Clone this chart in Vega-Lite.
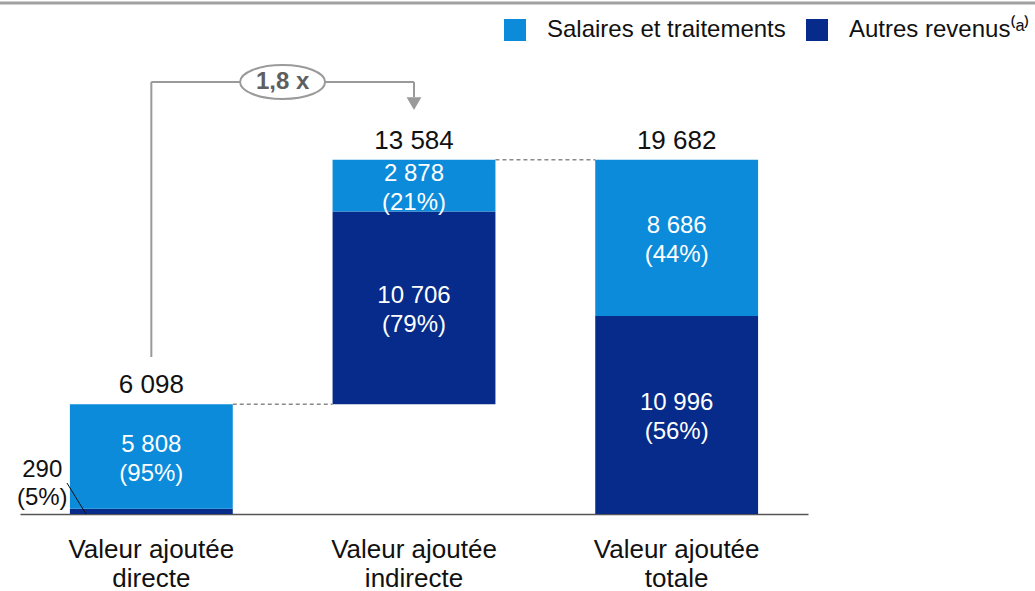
{
  "$schema": "https://vega.github.io/schema/vega-lite/v6.json",
  "width": 1035,
  "height": 511,
  "autosize": {"type": "none"},
  "padding": {"top": 3, "left": 0, "right": 0, "bottom": 77},
  "config": {
    "font": "Liberation Sans",
    "view": {"stroke": null},
    "text": {"font": "Liberation Sans"}
  },
  "datasets": {
    "bars": [
      {"cat": "Valeur ajoutée directe", "type": "Autres revenus⁽ᵃ⁾", "y0": 0, "y1": 290, "lab": "", "total": ""},
      {"cat": "Valeur ajoutée directe", "type": "Salaires et traitements", "y0": 290, "y1": 6098, "lab": "5 808\n(95%)", "total": "6 098"},
      {"cat": "Valeur ajoutée indirecte", "type": "Autres revenus⁽ᵃ⁾", "y0": 6098, "y1": 16804, "lab": "10 706\n(79%)", "total": ""},
      {"cat": "Valeur ajoutée indirecte", "type": "Salaires et traitements", "y0": 16804, "y1": 19682, "lab": "2 878\n(21%)", "total": "13 584"},
      {"cat": "Valeur ajoutée totale", "type": "Autres revenus⁽ᵃ⁾", "y0": 0, "y1": 10996, "lab": "10 996\n(56%)", "total": ""},
      {"cat": "Valeur ajoutée totale", "type": "Salaires et traitements", "y0": 10996, "y1": 19682, "lab": "8 686\n(44%)", "total": "19 682"}
    ]
  },
  "data": {"name": "bars"},
  "encoding": {
    "x": {
      "field": "cat",
      "type": "nominal",
      "sort": null,
      "scale": {"range": [20, 808], "paddingInner": 0.38, "paddingOuter": 0.19},
      "axis": {
        "title": null,
        "ticks": false,
        "tickSize": 0,
        "domainColor": "#555555",
        "domainWidth": 1.5,
        "labelAngle": 0,
        "labelFontSize": 26,
        "labelColor": "#111111",
        "labelPadding": 22,
        "labelLineHeight": 29,
        "labelExpr": "['Valeur ajoutée', replace(datum.label, 'Valeur ajoutée ', '')]"
      }
    }
  },
  "layer": [
    {
      "data": {"values": [{}]},
      "mark": {"type": "rule", "color": "#a0a0a0", "strokeWidth": 3},
      "encoding": {"x": null, "y": {"datum": 28389, "type": "quantitative", "scale": {"domain": [0, 28389], "nice": false, "zero": true}, "axis": null}}
    },
    {
      "mark": {"type": "bar", "strokeWidth": 0},
      "encoding": {
        "y": {"field": "y0", "type": "quantitative", "scale": {"domain": [0, 28389], "nice": false}, "axis": null},
        "y2": {"field": "y1"},
        "color": {
          "field": "type",
          "type": "nominal",
          "scale": {"domain": ["Salaires et traitements", "Autres revenus⁽ᵃ⁾"], "range": ["#0B8BDA", "#062B8A"]},
          "legend": {
            "title": null,
            "orient": "none",
            "legendX": 503,
            "legendY": 15,
            "direction": "horizontal",
            "symbolType": "square",
            "symbolSize": 484,
            "symbolStrokeWidth": 0,
            "symbolOpacity": 1,
            "labelFontSize": 24,
            "labelColor": "#111111",
            "labelOffset": 20,
            "columnPadding": 19,
            "labelLimit": 400
          }
        }
      }
    },
    {
      "transform": [{"filter": "datum.lab != ''"}, {"calculate": "(datum.y0 + datum.y1) / 2", "as": "mid"}],
      "mark": {"type": "text", "color": "white", "fontSize": 24, "lineBreak": "\n", "lineHeight": 29, "baseline": "middle", "align": "center", "dy": -12},
      "encoding": {
        "y": {"field": "mid", "type": "quantitative"},
        "text": {"field": "lab"}
      }
    },
    {
      "transform": [{"filter": "datum.total != ''"}],
      "mark": {"type": "text", "color": "#111111", "fontSize": 26, "baseline": "alphabetic", "align": "center", "dy": -11},
      "encoding": {
        "y": {"field": "y1", "type": "quantitative"},
        "text": {"field": "total"}
      }
    },
    {
      "data": {"values": [{}]},
      "mark": {"type": "rule", "color": "#8a8a8a", "strokeWidth": 1.5, "strokeDash": [4, 3]},
      "encoding": {
        "x": {"datum": "Valeur ajoutée directe", "bandPosition": 1},
        "x2": {"datum": "Valeur ajoutée indirecte", "bandPosition": 0},
        "y": {"datum": 6098, "type": "quantitative"}
      }
    },
    {
      "data": {"values": [{}]},
      "mark": {"type": "rule", "color": "#8a8a8a", "strokeWidth": 1.5, "strokeDash": [4, 3]},
      "encoding": {
        "x": {"datum": "Valeur ajoutée indirecte", "bandPosition": 1},
        "x2": {"datum": "Valeur ajoutée totale", "bandPosition": 0},
        "y": {"datum": 19682, "type": "quantitative"}
      }
    },
    {
      "data": {"values": [{}]},
      "mark": {"type": "rule", "color": "#111111", "strokeWidth": 1},
      "encoding": {
        "x": {"datum": "Valeur ajoutée directe", "bandPosition": -0.018},
        "x2": {"datum": "Valeur ajoutée directe", "bandPosition": 0.099},
        "y": {"datum": 1722, "type": "quantitative"},
        "y2": {"datum": 0}
      }
    },
    {
      "data": {"values": [{"t": "290\n(5%)"}]},
      "mark": {"type": "text", "color": "#111111", "fontSize": 24, "lineBreak": "\n", "lineHeight": 28, "baseline": "middle", "align": "center", "dy": -14},
      "encoding": {
        "x": {"datum": "Valeur ajoutée directe", "bandPosition": -0.17},
        "y": {"datum": 1667, "type": "quantitative"},
        "text": {"field": "t"}
      }
    },
    {
      "data": {"values": [{}]},
      "mark": {"type": "rule", "color": "#9a9a9a", "strokeWidth": 2},
      "encoding": {
        "x": {"datum": "Valeur ajoutée directe"},
        "y": {"datum": 8722, "type": "quantitative"},
        "y2": {"datum": 24000}
      }
    },
    {
      "data": {"values": [{}]},
      "mark": {"type": "rule", "color": "#9a9a9a", "strokeWidth": 2},
      "encoding": {
        "x": {"datum": "Valeur ajoutée directe"},
        "x2": {"datum": "Valeur ajoutée indirecte"},
        "y": {"datum": 24000, "type": "quantitative"}
      }
    },
    {
      "data": {"values": [{}]},
      "mark": {"type": "rule", "color": "#9a9a9a", "strokeWidth": 2},
      "encoding": {
        "x": {"datum": "Valeur ajoutée indirecte"},
        "y": {"datum": 24000, "type": "quantitative"},
        "y2": {"datum": 23167}
      }
    },
    {
      "data": {"values": [{}]},
      "mark": {"type": "point", "shape": "triangle-down", "filled": true, "color": "#9a9a9a", "size": 220, "opacity": 1},
      "encoding": {
        "x": {"datum": "Valeur ajoutée indirecte"},
        "y": {"datum": 22800, "type": "quantitative"}
      }
    },
    {
      "data": {"values": [{}]},
      "mark": {"type": "point", "shape": "M-1,0A1,0.4,0,1,1,1,0A1,0.4,0,1,1,-1,0Z", "filled": false, "fill": "white", "fillOpacity": 1, "stroke": "#9a9a9a", "strokeWidth": 2, "size": 7225, "opacity": 1},
      "encoding": {
        "x": {"datum": "Valeur ajoutée directe", "bandPosition": 1.306},
        "y": {"datum": 24000, "type": "quantitative"}
      }
    },
    {
      "data": {"values": [{"t": "1,8 x"}]},
      "mark": {"type": "text", "color": "#5f5f5f", "fontSize": 24, "fontWeight": "bold", "baseline": "middle", "align": "center"},
      "encoding": {
        "x": {"datum": "Valeur ajoutée directe", "bandPosition": 1.306},
        "y": {"datum": 24000, "type": "quantitative"},
        "text": {"field": "t"}
      }
    }
  ]
}
